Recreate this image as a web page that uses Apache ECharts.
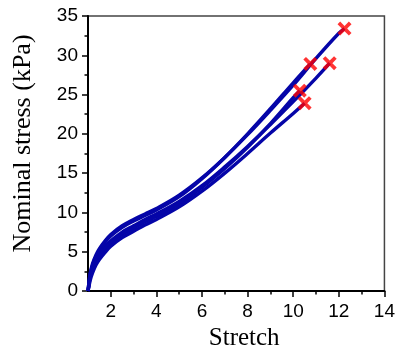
<!DOCTYPE html>
<html><head><meta charset="utf-8">
<script src="https://cdn.jsdelivr.net/npm/echarts@6/dist/echarts.min.js"></script>
<style>html,body{margin:0;padding:0;background:#fff}#c{width:398px;height:356px}</style>
</head><body><div id="c"></div>
<script>
const xTicks = [2, 4, 6, 8, 10, 12, 14];
const xMinorTicks = [3, 5, 7, 9, 11, 13];
const c1Stretch = [1, 1.05, 1.1, 1.2, 1.35, 1.5, 1.75, 2, 2.5, 3, 3.5, 4, 5, 6, 7, 8, 9, 10, 11, 12, 12.25];
const c1Stress  = [0, 1.3, 2.3, 3.5, 4.6, 5.4, 6.4, 7.2, 8.3, 9.1, 9.8, 10.5, 12.2, 14.4, 17.0, 19.9, 23.0, 26.2, 29.6, 32.8, 33.4];
const c2Stretch = [1, 1.05, 1.1, 1.2, 1.35, 1.5, 1.75, 2, 2.5, 3, 3.5, 4, 5, 6, 7, 8, 9, 10, 10.75];
const c2Stress  = [0, 1.2, 2.2, 3.3, 4.4, 5.2, 6.2, 7.0, 8.1, 8.9, 9.6, 10.3, 12.0, 14.3, 17.0, 20.0, 23.2, 26.5, 28.9];
const c3Stretch = [1, 1.05, 1.1, 1.2, 1.35, 1.5, 1.75, 2, 2.5, 3, 3.5, 4, 5, 6, 7, 8, 9, 10, 11, 11.6];
const c3Stress  = [0, 1.0, 1.9, 2.9, 4.0, 4.7, 5.7, 6.4, 7.5, 8.3, 9.1, 9.8, 11.4, 13.4, 15.8, 18.4, 21.2, 24.1, 27.1, 29.0];
const c4Stretch = [1, 1.05, 1.1, 1.2, 1.35, 1.5, 1.75, 2, 2.5, 3, 3.5, 4, 5, 6, 7, 8, 9, 10, 10.29];
const c4Stress  = [0, 0.9, 1.8, 2.7, 3.7, 4.4, 5.4, 6.1, 7.2, 8.0, 8.8, 9.5, 11.1, 13.2, 15.6, 18.3, 21.3, 24.6, 25.5];
const c5Stretch = [1, 1.05, 1.1, 1.2, 1.35, 1.5, 1.75, 2, 2.5, 3, 3.5, 4, 5, 6, 7, 8, 9, 10, 10.5];
const c5Stress  = [0, 0.7, 1.4, 2.3, 3.3, 4.0, 4.9, 5.7, 6.8, 7.6, 8.4, 9.1, 10.7, 12.7, 15.0, 17.5, 20.1, 22.6, 23.9];
const breakStretch = [12.25, 10.75, 11.6, 10.29, 10.5];
const breakStress  = [33.4, 28.9, 29.0, 25.5, 23.9];

const curves = [[c1Stretch, c1Stress], [c2Stretch, c2Stress], [c3Stretch, c3Stress], [c4Stretch, c4Stress], [c5Stretch, c5Stress]];
const zip = (a, b) => a.map((v, i) => [v, b[i]]);
const xShape = 'path://M0,1.9L1.9,0L5,3.1L8.1,0L10,1.9L6.9,5L10,8.1L8.1,10L5,6.9L1.9,10L0,8.1L3.1,5Z';

const series = curves.map(c => ({
  type: 'line', xAxisIndex: 0, yAxisIndex: 0, data: zip(c[0], c[1]),
  showSymbol: false, smooth: 0.35, lineStyle: { width: 3.4, color: '#0505A8' }, z: 2
}));
series.push({
  type: 'scatter', xAxisIndex: 0, yAxisIndex: 0, data: zip(breakStretch, breakStress),
  symbol: xShape, symbolSize: 14, itemStyle: { color: '#FF0000' }, z: 5
});

const chart = echarts.init(document.getElementById('c'));
chart.setOption({
  animation: false,
  grid: { left: 88, right: 12, top: 16, bottom: 65, show: true, borderColor: '#444', borderWidth: 1.5 },
  xAxis: [{
    type: 'value', min: 1, max: 14,
    name: 'Stretch', nameLocation: 'middle', nameGap: 34,
    nameTextStyle: { fontFamily: 'Liberation Serif', fontSize: 25, color: '#000', padding: [0, 0, 0, 16] },
    axisLine: { show: true, lineStyle: { color: '#000', width: 2 } },
    axisTick: { show: true, customValues: xTicks, length: 6, inside: false, lineStyle: { color: '#000', width: 1.5 } },
    axisLabel: { customValues: xTicks, fontFamily: 'Liberation Sans', fontSize: 19, color: '#000', margin: 11 },
    splitLine: { show: false }
  }, {
    type: 'value', min: 1, max: 14, position: 'bottom',
    axisLine: { show: false },
    axisTick: { show: true, customValues: xMinorTicks, length: 3.5, lineStyle: { color: '#000', width: 1.5 } },
    axisLabel: { show: false }, splitLine: { show: false }
  }],
  yAxis: [{
    type: 'value', min: 0, max: 35, interval: 5,
    name: 'Nominal stress (kPa)', nameLocation: 'middle', nameGap: 52,
    nameTextStyle: { fontFamily: 'Liberation Serif', fontSize: 26, color: '#000', padding: [0, 0, 0, 20] },
    axisLine: { show: true, lineStyle: { color: '#000', width: 2 } },
    axisTick: { show: true, length: 6, lineStyle: { color: '#000', width: 1.5 } },
    minorTick: { show: true, splitNumber: 2, length: 3.5, lineStyle: { color: '#000', width: 1.5 } },
    axisLabel: { fontFamily: 'Liberation Sans', fontSize: 19, color: '#000', margin: 10 },
    splitLine: { show: false }
  }],
  series: series
});
</script></body></html>
